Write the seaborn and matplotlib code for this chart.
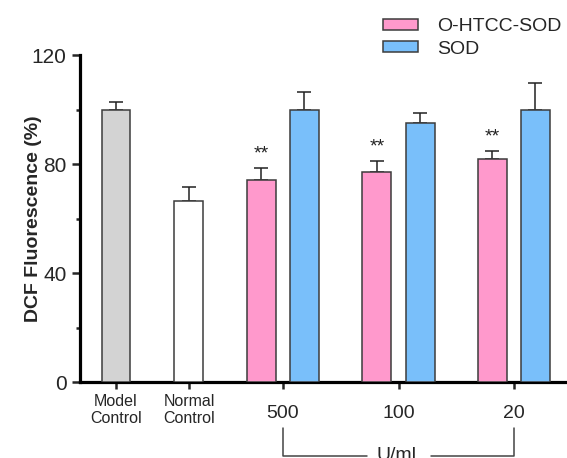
import matplotlib
matplotlib.use('Agg')
import matplotlib.pyplot as plt
import matplotlib.transforms as mtransforms
import pandas as pd
import seaborn as sns

sns.set_style('ticks')
plt.rcParams['font.family'] = ['Liberation Sans', 'DejaVu Sans']

# data
control_labels = ['Model Control', 'Normal Control']
control_values = [100.0, 66.5]
control_err = [3.0, 5.2]

doses = ['500', '100', '20']
series_names = ['O-HTCC-SOD', 'SOD']
ohtcc_values = [74.2, 77.3, 81.9]
ohtcc_err = [4.6, 3.8, 3.1]
sod_values = [100.1, 95.2, 100.1]
sod_err = [6.3, 3.7, 9.7]
dose_unit = 'U/ml'

# layout: slot centres on the x axis and dodge for the two series
slot_pos = [0.0, 0.63, 1.44, 2.44, 3.435]
dodge = 0.1875
colors = {'Model Control': '#D3D3D3', 'Normal Control': '#FFFFFF',
          'O-HTCC-SOD': '#FF99CC', 'SOD': '#79BFFA'}
edge = '#3C3C3C'

rows = []
for lab, v, e, p in zip(control_labels, control_values, control_err, slot_pos[:2]):
    rows.append({'x': p, 'value': v, 'err': e, 'group': lab})
for i, d in enumerate(doses):
    p = slot_pos[2 + i]
    rows.append({'x': p - dodge, 'value': ohtcc_values[i], 'err': ohtcc_err[i], 'group': series_names[0]})
    rows.append({'x': p + dodge, 'value': sod_values[i], 'err': sod_err[i], 'group': series_names[1]})
df = pd.DataFrame(rows)

fig = plt.figure(figsize=(5.67, 4.58), dpi=100)
ax = fig.add_axes([80 / 567, 75.7 / 458, 487 / 567, 327 / 458])

sns.barplot(data=df, x='x', y='value', hue='group', native_scale=True, dodge=False,
            palette=colors, saturation=1, width=0.667, edgecolor=edge, linewidth=1.1,
            errorbar=None, ax=ax, zorder=3)
ax.errorbar(df['x'], df['value'], yerr=[[0] * len(df), df['err']], fmt='none',
            ecolor='#222222', elinewidth=1.1, capsize=4.7, capthick=1.1, zorder=2)

# significance stars on O-HTCC-SOD bars
sig = df[df['group'] == series_names[0]]
for _, r in sig.iterrows():
    ax.annotate('**', (r['x'], r['value'] + r['err']), xytext=(0, 4), textcoords='offset points',
                ha='center', va='bottom', fontsize=14, color='#222222')

ax.set_xlim(-0.311, 3.895)
ax.set_ylim(0, 120)
ax.set_yticks([0, 40, 80, 120])
ax.set_yticks([20, 60, 100], minor=True)
ax.set_xticks(slot_pos)
ax.set_xticklabels([l.replace(' ', '\n') for l in control_labels] + doses)
ax.set_xlabel('')
ax.set_ylabel('DCF Fluorescence (%)', fontsize=14, fontweight='bold')
ax.yaxis.set_label_coords(-0.078, 0.5)

sns.despine(ax=ax)
for s in ['left', 'bottom']:
    ax.spines[s].set_linewidth(2.3)
    ax.spines[s].set_color('black')
ax.tick_params(axis='y', which='major', length=5.8, width=1.8, labelsize=15, pad=4)
ax.tick_params(axis='y', which='minor', length=3.2, width=1.8)
ax.tick_params(axis='x', length=5, width=1.8, pad=3.5)

shift = mtransforms.ScaledTranslation(0, -8 / 72, fig.dpi_scale_trans)
for i, t in enumerate(ax.get_xticklabels()):
    if i < 2:
        t.set_fontsize(11.5)
        t.set_linespacing(1.15)
    else:
        t.set_fontsize(14)
        t.set_transform(t.get_transform() + shift)

# legend with the two series only
handles, labels = ax.get_legend_handles_labels()
keep = [(h, l) for h, l in zip(handles, labels) if l in series_names]
if ax.legend_:
    ax.legend_.remove()
fig.legend([h for h, _ in keep], [l for _, l in keep], loc='upper left',
           bbox_to_anchor=(383 / 567, 1 - 18 / 458), frameon=False, fontsize=14,
           handlelength=1.8, handleheight=0.5, handletextpad=1.0, labelspacing=0.3,
           borderpad=0, borderaxespad=0)

# bracket under the dose labels
trans = mtransforms.blended_transform_factory(ax.transData, ax.transAxes)
x0, xm, x1 = slot_pos[2], slot_pos[3], slot_pos[4]
y_top, y_bot = -0.14, -0.225
ax.plot([x0, x0, xm - 0.27], [y_top, y_bot, y_bot], color='#444444', lw=1.1,
        transform=trans, clip_on=False)
ax.plot([xm + 0.28, x1, x1], [y_bot, y_bot, y_top], color='#444444', lw=1.1,
        transform=trans, clip_on=False)
ax.text(xm - 0.02, -0.237, dose_unit, transform=trans, ha='center', va='baseline', fontsize=14)

fig.savefig('out.png', dpi=100)
